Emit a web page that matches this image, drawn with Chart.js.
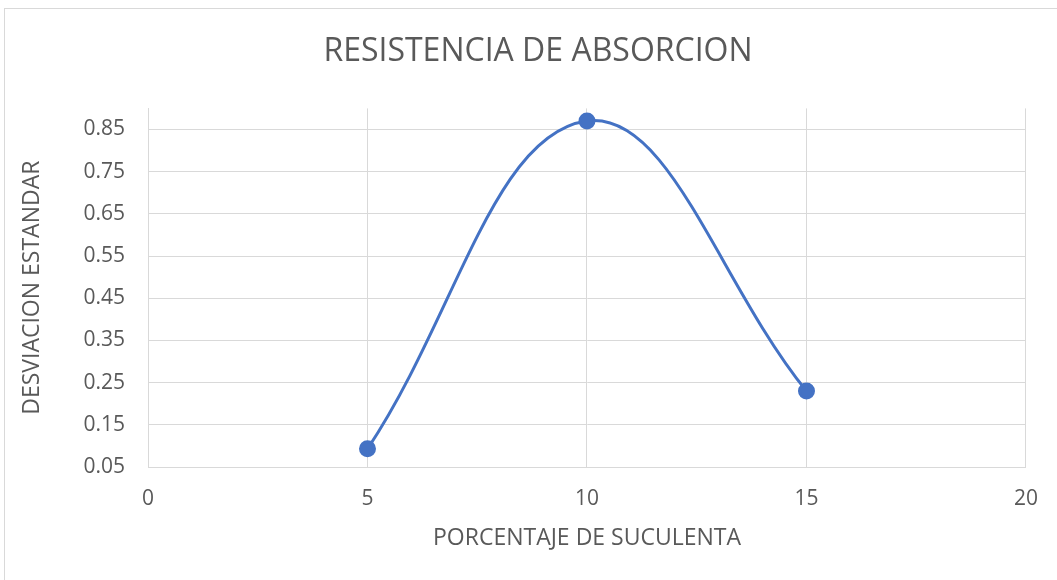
<!DOCTYPE html>
<html>
<head>
<meta charset="utf-8">
<script src="https://cdn.jsdelivr.net/npm/chart.js@4.4.1/dist/chart.umd.min.js"></script>
<style>
    html, body { margin: 0; padding: 0; background: #fff; }
    #wrap { position: relative; width: 1057px; height: 580px; overflow: hidden; }
    #frame { position: absolute; left: 4px; top: 8px; width: 1100px; height: 620px; border: 1px solid #d9d9d9; box-sizing: border-box; }
    canvas { position: absolute; left: 0; top: 0; }
</style>
</head>
<body>
<div id="wrap">
    <div id="frame"></div>
    <canvas id="chart" width="1057" height="580"></canvas>
</div>
<script>
const TITLE = 'RESISTENCIA DE ABSORCION';
const X_TITLE = 'PORCENTAJE DE SUCULENTA';
const Y_TITLE = 'DESVIACION ESTANDAR';
const X_VALUES = [5, 10, 15];
const Y_VALUES = [0.093, 0.87, 0.23];
const X_TICKS = [0, 5, 10, 15, 20];
const Y_TICKS = [0.05, 0.15, 0.25, 0.35, 0.45, 0.55, 0.65, 0.75, 0.85];

const TEXT = '#595959';
const GRID = '#d9d9d9';
const FONT = "'Open Sans', 'Liberation Sans', sans-serif";

new Chart(document.getElementById('chart'), {
    type: 'scatter',
    data: {
        datasets: [{
            data: X_VALUES.map((x, i) => ({ x, y: Y_VALUES[i] })),
            showLine: true,
            borderColor: '#4472C4',
            backgroundColor: '#4472C4',
            borderWidth: 3,
            pointRadius: 7,
            pointHoverRadius: 7,
            tension: 0.4,
        }],
    },
    options: {
        responsive: false,
        animation: false,
        // left padding shifts the centred title to match the original frame
        layout: { padding: { left: 48, right: 29, top: 0, bottom: 0 } },
        plugins: {
            legend: { display: false },
            tooltip: { enabled: false },
            title: {
                display: true,
                text: TITLE,
                color: TEXT,
                font: { family: FONT, size: 32, weight: 'normal' },
                padding: { top: 33, bottom: 37 },
            },
        },
        scales: {
            x: {
                type: 'linear',
                min: 0,
                max: 20,
                afterBuildTicks: s => { s.ticks = X_TICKS.map(v => ({ value: v })); },
                afterFit: s => { s.height = 113; },
                grid: { color: GRID, drawTicks: false },
                border: { color: GRID },
                ticks: { color: TEXT, padding: 19, font: { family: FONT, size: 21 } },
                title: {
                    display: true,
                    text: X_TITLE,
                    color: TEXT,
                    font: { family: FONT, size: 23 },
                    padding: { top: 0, bottom: 28 },
                },
            },
            y: {
                type: 'linear',
                min: 0.05,
                max: 0.9,
                afterBuildTicks: s => { s.ticks = Y_TICKS.map(v => ({ value: v })); },
                afterFit: s => { s.width = 100; },
                grid: { color: GRID, drawTicks: false },
                border: { color: GRID },
                ticks: {
                    color: TEXT,
                    padding: 23,
                    font: { family: FONT, size: 21 },
                    callback: v => v.toFixed(2),
                },
                title: {
                    display: true,
                    text: Y_TITLE,
                    color: TEXT,
                    font: { family: FONT, size: 23 },
                    padding: { top: -29, bottom: 0 },
                },
            },
        },
    },
});
</script>
</body>
</html>
